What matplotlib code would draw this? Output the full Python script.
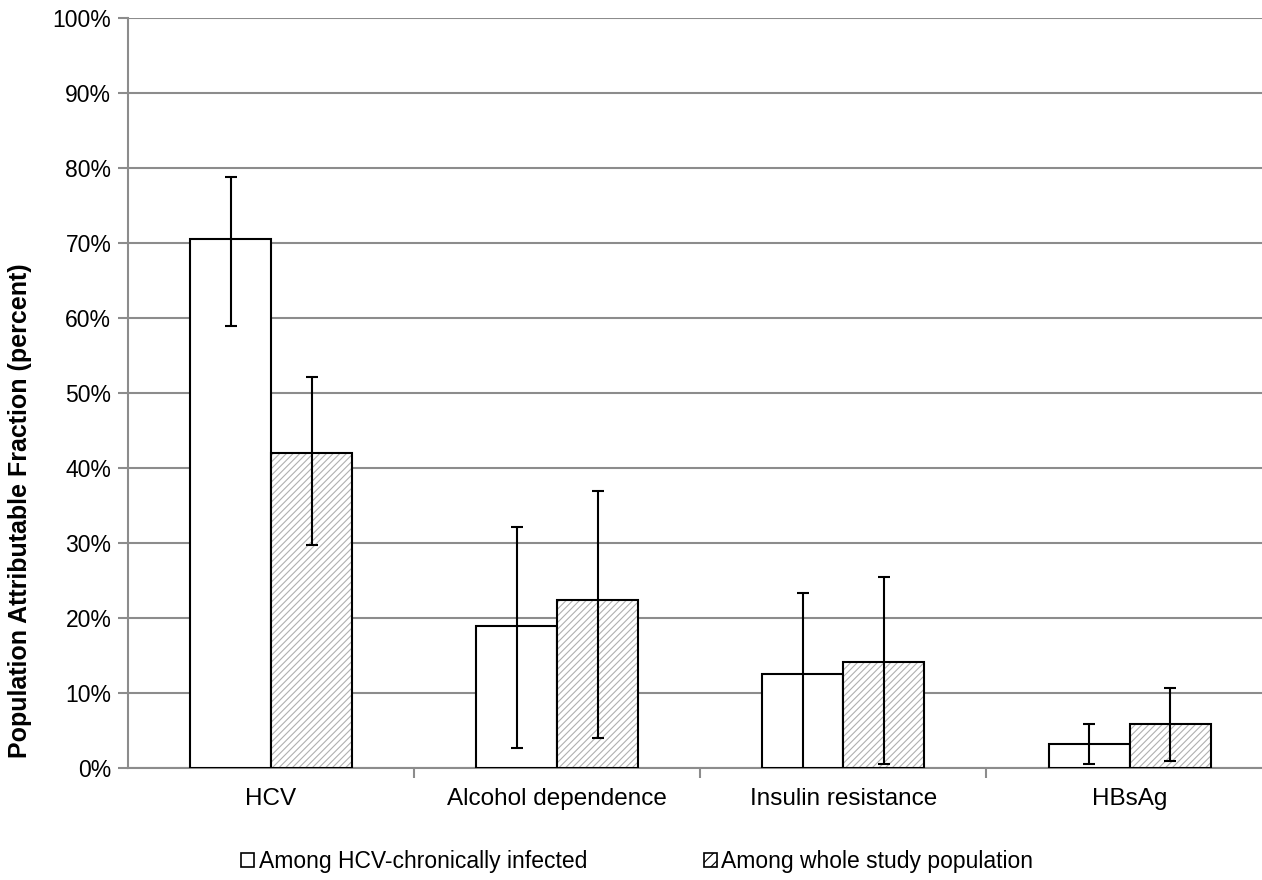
import numpy as np
import matplotlib.pyplot as plt
from matplotlib.patches import Patch

plt.rcParams['font.family'] = ['Liberation Sans', 'DejaVu Sans']
plt.rcParams['hatch.linewidth'] = 0.8

# _________________________________________________________________
# data (percent)
categories = ["HCV", "Alcohol dependence", "Insulin resistance", "HBsAg"]
series_names = ["Among HCV-chronically infected", "Among whole study population"]

chronic_paf = [70.5, 18.9, 12.5, 3.2]
chronic_low = [59.0, 2.7, -1.0, 0.6]
chronic_high = [78.8, 32.2, 23.4, 5.9]

whole_paf = [42.0, 22.4, 14.1, 5.9]
whole_low = [29.8, 4.0, 0.5, 0.9]
whole_high = [52.1, 36.9, 25.5, 10.7]

y_ticks = list(range(0, 101, 10))
# _________________________________________________________________

GRID = "#8c8c8c"
HATCH = "#b0b0b0"

fig = plt.figure(figsize=(12.62, 8.8), dpi=100)
ax = fig.add_axes([0.1014, 0.127, 0.907, 0.8525])

x = np.arange(len(categories))
w = 0.283

def err(v, lo, hi):
    v, lo, hi = map(np.asarray, (v, lo, hi))
    return np.vstack([v - lo, hi - v])

# white bars
ax.bar(x - w / 2, chronic_paf, w, color="white", edgecolor="black",
       linewidth=1.5, zorder=3)

# hatched bars: hatch layer in gray, outline in black on top
ax.bar(x + w / 2, whole_paf, w, color="white", edgecolor=HATCH, hatch="/////",
       linewidth=0, zorder=3)
ax.bar(x + w / 2, whole_paf, w, fill=False, edgecolor="black",
       linewidth=1.5, zorder=4)

ax.errorbar(x - w / 2, chronic_paf, yerr=err(chronic_paf, chronic_low, chronic_high),
            fmt="none", ecolor="black", elinewidth=1.5, capsize=4.3,
            capthick=1.5, zorder=5)
ax.errorbar(x + w / 2, whole_paf, yerr=err(whole_paf, whole_low, whole_high),
            fmt="none", ecolor="black", elinewidth=1.5, capsize=4.3,
            capthick=1.5, zorder=5)

ax.set_xlim(-0.5, len(categories) - 0.5)
ax.set_ylim(0, 100)
ax.set_yticks(y_ticks)
ax.set_yticklabels([f"{t}%" for t in y_ticks], fontsize=16.5)
ax.yaxis.grid(True, color=GRID, linewidth=1.5, zorder=0)
ax.set_axisbelow(True)

# category labels in the middle, tick marks at the boundaries
ax.set_xticks(x)
ax.set_xticklabels(categories, fontsize=17.5)
ax.tick_params(axis="x", length=0, pad=14)
ax.set_xticks(np.arange(0.5, len(categories) - 0.5), minor=True)
ax.tick_params(axis="x", which="minor", length=7, width=1.5, color=GRID,
               direction="out")
ax.tick_params(axis="y", length=7, width=1.5, color=GRID, pad=5)

for side in ("top", "right"):
    ax.spines[side].set_visible(False)
for side in ("left", "bottom"):
    ax.spines[side].set_color(GRID)
    ax.spines[side].set_linewidth(1.5)

ax.set_ylabel("Population Attributable Fraction (percent)", fontsize=18,
              fontweight="bold")
ax.yaxis.set_label_coords(-0.084, 0.343)

handles = [
    Patch(facecolor="white", edgecolor="black", linewidth=1.2),
    Patch(facecolor="white", edgecolor="black", hatch="///", linewidth=1.2),
]
fig.legend(handles, series_names, loc="center", bbox_to_anchor=(0.505, 0.021),
           ncol=2, frameon=False, fontsize=16.5, handlelength=0.55,
           handleheight=0.55, handletextpad=0.2, columnspacing=5.1)

fig.savefig("out.png", dpi=100)
